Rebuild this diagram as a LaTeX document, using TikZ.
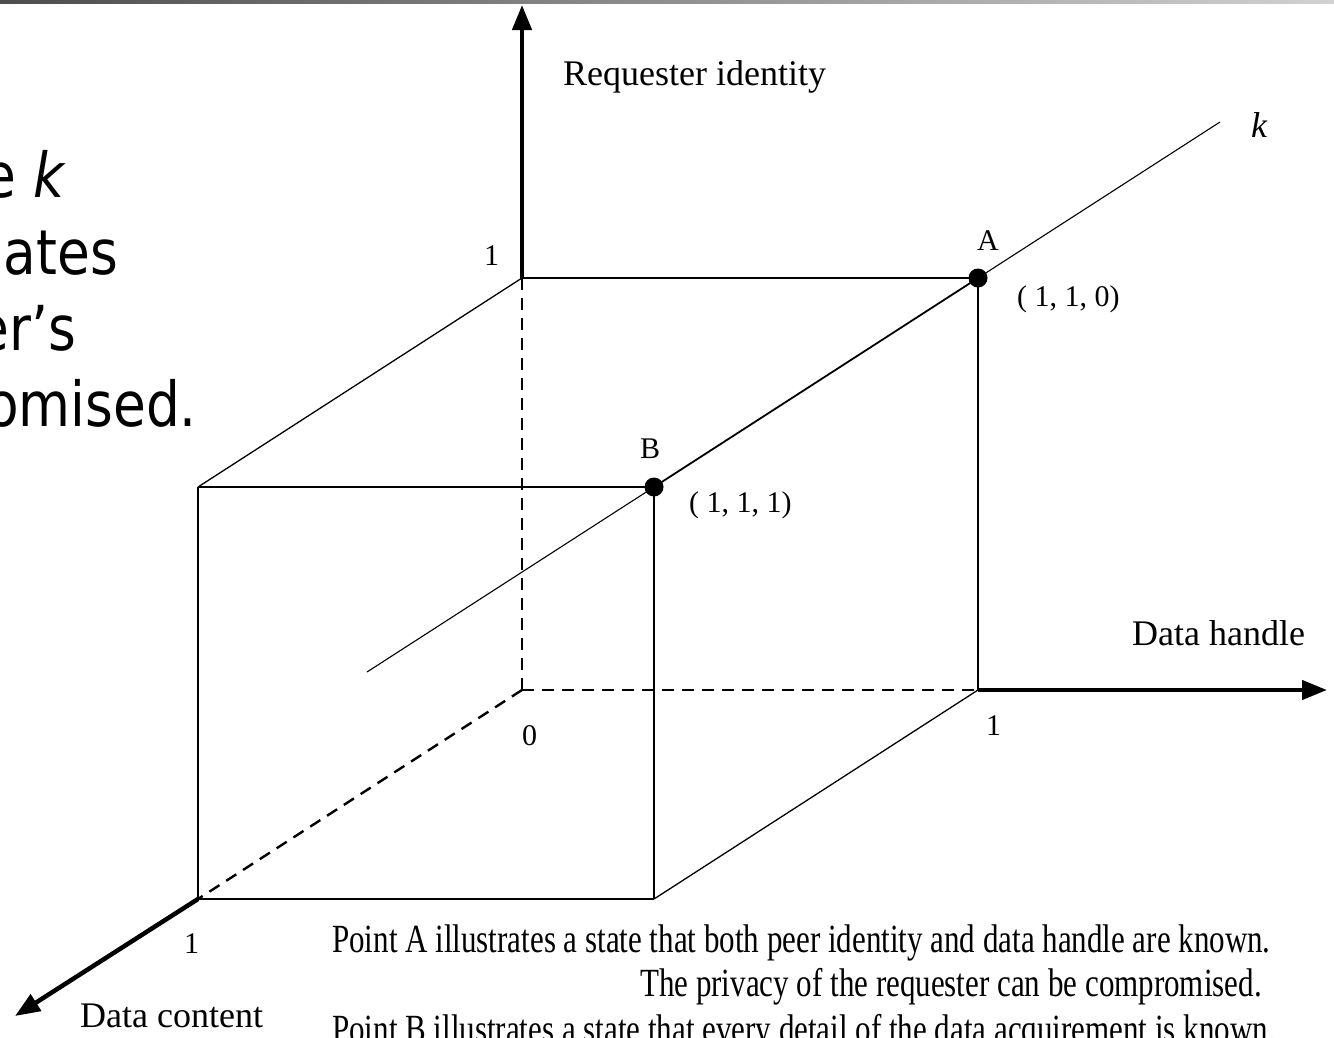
\documentclass[tikz,border=0pt]{standalone}
\usepackage{fontspec}
\setmainfont{Liberation Serif}
\newfontfamily\slidefont{DejaVu Sans}
\usetikzlibrary{arrows.meta}
\newcommand{\labL}[1]{{\fontsize{36}{36}\selectfont #1}}
\newcommand{\labS}[1]{{\fontsize{30}{30}\selectfont #1}}
\newcommand{\noteline}[1]{\scalebox{0.775}[1]{\fontsize{40}{40}\selectfont #1}}
\newcommand{\slidetext}[1]{\scalebox{0.86}[1]{\fontsize{62}{62}\slidefont\selectfont #1}}
\tikzset{
  edgeline/.style={line width=1.3pt},
  hiddenline/.style={line width=2.4pt, dash pattern=on 12pt off 8pt},
  axisline/.style={line width=4.5pt, -{Triangle[length=25pt,width=19pt]}},
  kline/.style={line width=1.1pt},
  lbl/.style={inner sep=0pt, anchor=base west},
  dotmark/.style={circle, fill=black, inner sep=0pt, minimum size=19pt},
}
\begin{document}
\begin{tikzpicture}[x=1pt,y=-1pt]
\useasboundingbox (0,0) rectangle (1334,1037);
\clip (0,0) rectangle (1334,1037);
\fill[white] (0,0) rectangle (1334,1037);
% slide header bar
\shade[left color=black!70, right color=black!18] (0,0) rectangle (1334,3.5);

% slide text, cut at the left edge
\node[inner sep=0pt, anchor=base east] (s1) at (66,197) {\slidetext{e \textit{k}}};
\node[inner sep=0pt, anchor=base east] (s2) at (118,274) {\slidetext{ates}};
\node[inner sep=0pt, anchor=base east] (s3) at (76,350) {\slidetext{er’s}};
\node[inner sep=0pt, anchor=base east] (s4) at (197,426) {\slidetext{omised.}};

% cube vertices
\coordinate (O)  at (522,690);
\coordinate (BT) at (522,278);
\coordinate (BR) at (978,690);
\coordinate (A)  at (978,278);
\coordinate (FB) at (198,899);
\coordinate (FT) at (198,487);
\coordinate (B)  at (654,487);
\coordinate (FR) at (654,899);
\coordinate (kS) at (367,672);
\coordinate (kE) at (1220,122);
\coordinate (yTip) at (522,5);
\coordinate (xTip) at (1327,690);
\coordinate (zTip) at (15,1016);

% hidden edges
\draw[hiddenline] (O) -- (BT);
\draw[hiddenline] (O) -- (BR);
\draw[hiddenline] (O) -- (FB);

% visible edges
\draw[edgeline] (BT) -- (A) -- (BR);
\draw[edgeline] (BT) -- (FT);
\draw[edgeline] (FT) -- (B) -- (FR);
\draw[edgeline] (FT) -- (FB) -- (FR);
\draw[edgeline] (FR) -- (BR);

% k line
\draw[kline] (kS) -- (B);
\draw[line width=1.8pt] (B) -- (A);
\draw[kline] (A) -- (kE);

% axes
\draw[axisline] (BT) -- (yTip);
\draw[axisline] (BR) -- (xTip);
\draw[axisline] (FB) -- (zTip);

% points
\node[dotmark] (dA) at (A) {};
\node[dotmark] (dB) at (B) {};

% labels
\node[lbl] (lReq) at (563,85) {\labL{Requester identity}};
\node[lbl] (lk) at (1251,137) {\labL{\textit{k}}};
\node[lbl] (lDH) at (1132,645) {\labL{Data handle}};
\node[lbl] (lDC) at (80,1027) {\labL{Data content}};
\node[lbl] (lA) at (977,250) {\labS{A}};
\node[lbl] (lB) at (640,458) {\labS{B}};
\node[lbl] (lA2) at (1017,306) {\labS{( 1, 1, 0)}};
\node[lbl] (lB2) at (689,512) {\labS{( 1, 1, 1)}};
\node[lbl] (one1) at (484,265) {\labS{1}};
\node[lbl] (zero) at (522,745) {\labS{0}};
\node[lbl] (one2) at (986,735) {\labS{1}};
\node[lbl] (one3) at (184,953) {\labS{1}};

% notes at the bottom
\node[lbl] (n1) at (332,952) {\noteline{Point A illustrates a state that both peer identity and data handle are known.}};
\node[lbl] (n2) at (640,996) {\noteline{The privacy of the requester can be compromised.}};
\node[lbl] (n3) at (332,1042) {\noteline{Point B illustrates a state that every detail of the data acquirement is known.}};
\end{tikzpicture}
\end{document}
